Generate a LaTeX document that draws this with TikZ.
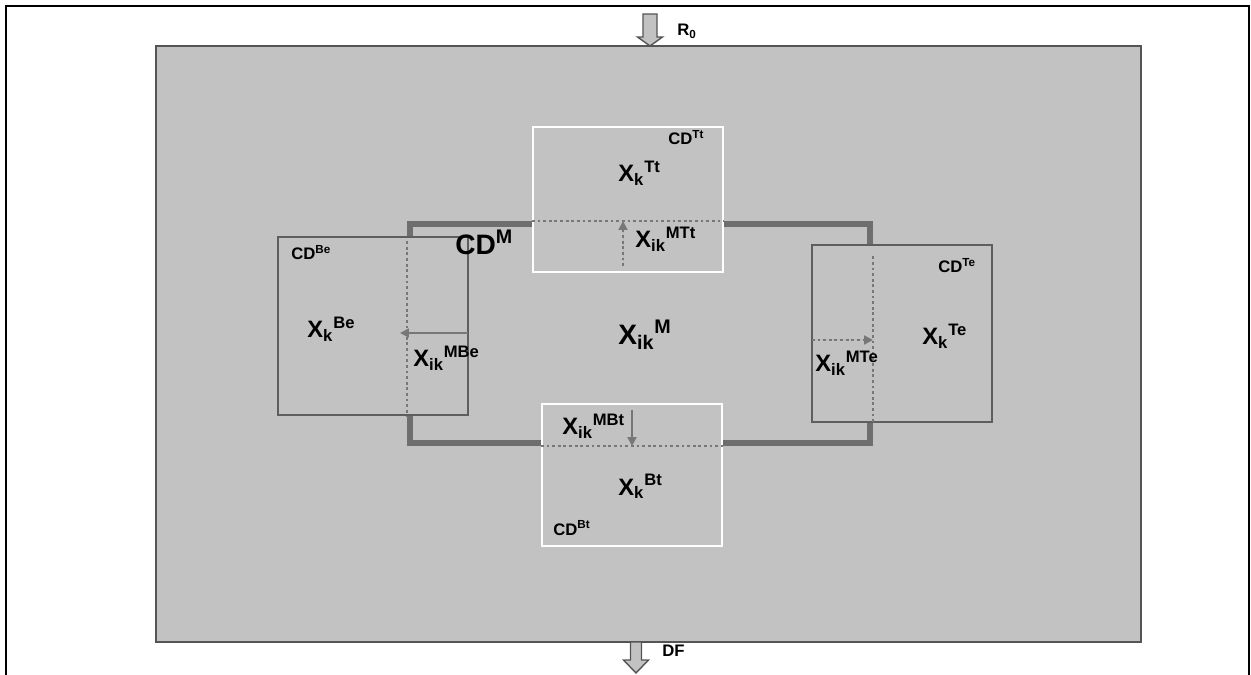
\documentclass[tikz,border=0pt]{standalone}
\usepackage{fontspec}
\setmainfont{Liberation Sans}
\usepackage{tikz}
\usetikzlibrary{positioning,arrows.meta}
\definecolor{cdFill}{HTML}{C2C2C2}
\definecolor{cdEdge}{HTML}{555555}
\definecolor{cdThick}{HTML}{6E6E6E}
\definecolor{cdBorder}{HTML}{5E5E5E}
\definecolor{cdDot}{HTML}{777777}
\tikzset{
  outerFrame/.style={draw=black, line width=1.1pt},
  region/.style={draw=cdEdge, line width=1.1pt, fill=cdFill, inner sep=0pt},
  mainFrame/.style={draw=cdThick, line width=3.4pt, inner sep=0pt},
  boxGray/.style={draw=cdBorder, line width=1.2pt, fill=cdFill, inner sep=0pt},
  boxWhite/.style={draw=white, line width=1.2pt, fill=cdFill, inner sep=0pt},
  splitLine/.style={draw=cdDot, line width=1.3pt, dash pattern=on 1.6pt off 1.6pt},
  flowDotted/.style={-{Triangle[length=5pt,width=5pt]}, draw=cdDot, fill=cdDot, line width=1.3pt, dash pattern=on 1.6pt off 1.6pt},
  flowSolid/.style={-{Triangle[length=5pt,width=5pt]}, draw=cdDot, fill=cdDot, line width=1.3pt},
  hollowArrow/.style={draw=cdEdge, line width=0.8pt, fill=cdFill},
  lbl/.style={font=\bfseries\fontsize{13.5}{15}\selectfont, inner sep=0pt, anchor=base west},
  lblSmall/.style={lbl, font=\bfseries\fontsize{9.5}{11}\selectfont},
  lblBig/.style={lbl, font=\bfseries\fontsize{16}{18}\selectfont}
}

\begin{document}
\begin{tikzpicture}[x=0.02cm, y=-0.02cm]
  \useasboundingbox (0,0) rectangle (1251,675);
  \draw[outerFrame] (6,675) -- (6,6) -- (1249,6) -- (1249,675);

  % regions
  \node[region, minimum width=19.7cm, minimum height=11.92cm] (area) at (648.5,344) {};
  \node[mainFrame, minimum width=9.2cm, minimum height=4.38cm] (cdM) at (640,333.5) {};
  \node[boxWhite, minimum width=3.8cm, minimum height=2.9cm] (topBox) at (628,199.5) {};
  \node[boxGray, minimum width=3.8cm, minimum height=3.56cm] (leftBox) at (373,326) {};
  \node[boxGray, minimum width=3.6cm, minimum height=3.54cm] (rightBox) at (902,333.5) {};
  \node[boxWhite, minimum width=3.6cm, minimum height=2.84cm] (bottomBox) at (632,475) {};

  % interfaces
  \draw[splitLine] (topBox.west |- cdM.north) -- (topBox.east |- cdM.north);
  \draw[splitLine, shorten <=3pt] (cdM.west |- leftBox.north) -- (cdM.west |- leftBox.south);
  \draw[splitLine, shorten <=7pt] (cdM.east |- rightBox.north) -- (cdM.east |- rightBox.south);
  \draw[splitLine] (bottomBox.west |- cdM.south) -- (bottomBox.east |- cdM.south);

  % exchange flows
  \coordinate (ttStart) at (623,266);
  \coordinate (beStart) at (468,333);
  \coordinate (teStart) at (812,340);
  \coordinate (btStart) at (632,410);
  \draw[flowDotted] (ttStart) -- (ttStart |- cdM.north);
  \draw[flowSolid, shorten >=-4pt] (beStart) -- (beStart -| cdM.west);
  \draw[flowDotted] (teStart) -- (teStart -| cdM.east);
  \draw[flowSolid] (btStart) -- (btStart |- cdM.south);

  % inflow and outflow
  \coordinate (inTip) at (650,46);
  \coordinate (outTip) at (636,673);
  \draw[hollowArrow] (inTip) -- ++(-12.5,-9) -- ++(5.5,0) -- ++(0,-23) -- ++(14,0) -- ++(0,23) -- ++(5.5,0) -- cycle;
  \draw[hollowArrow] (outTip) -- ++(-12.5,-13) -- ++(7,0) -- ++(0,-18) -- ++(11,0) -- ++(0,18) -- ++(7,0) -- cycle;

  % labels
  \node[lblSmall] (rIn) at (677,36) {R\textsubscript{0}};
  \node[lblSmall] (dfOut) at (662,656) {DF};
  \node[lblSmall] (cdTt) at (668,145) {CD\textsuperscript{Tt}};
  \node[lbl] (xTt) at (618,182) {X\textsubscript{k}\textsuperscript{Tt}};
  \node[lbl] (xMTt) at (635,248) {X\textsubscript{ik}\textsuperscript{MTt}};
  \node[lblSmall] (cdBe) at (291,260) {CD\textsuperscript{Be}};
  \node[lbl] (xBe) at (307,338) {X\textsubscript{k}\textsuperscript{Be}};
  \node[lbl] (xMBe) at (413,367) {X\textsubscript{ik}\textsuperscript{MBe}};
  \node[lblBig] (cdMLabel) at (455,255) {CD\textsuperscript{M}};
  \node[lblBig] (xM) at (618,345) {X\textsubscript{ik}\textsuperscript{M}};
  \node[lblSmall] (cdTe) at (938,273) {CD\textsuperscript{Te}};
  \node[lbl] (xTe) at (922,345) {X\textsubscript{k}\textsuperscript{Te}};
  \node[lbl] (xMTe) at (815,372) {X\textsubscript{ik}\textsuperscript{MTe}};
  \node[lbl] (xMBt) at (562,435) {X\textsubscript{ik}\textsuperscript{MBt}};
  \node[lbl] (xBt) at (618,495) {X\textsubscript{k}\textsuperscript{Bt}};
  \node[lblSmall] (cdBt) at (553,535) {CD\textsuperscript{Bt}};
\end{tikzpicture}
\end{document}
